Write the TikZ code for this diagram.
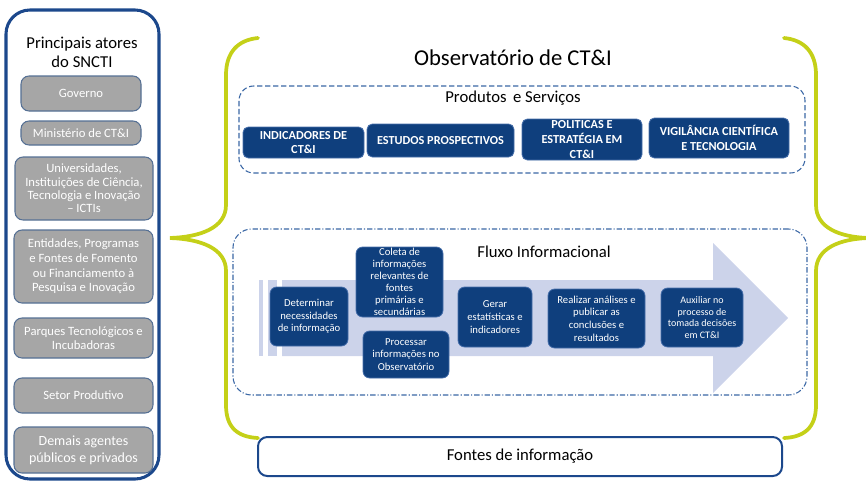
\documentclass[tikz,border=0pt]{standalone}
\usepackage{fontspec}
\setmainfont{Carlito}
\definecolor{navy}{RGB}{28,72,140}
\definecolor{boxblue}{RGB}{15,63,125}
\definecolor{boxedge}{RGB}{70,110,170}
\definecolor{graybox}{RGB}{166,166,166}
\definecolor{grayedge}{RGB}{85,112,148}
\definecolor{dashblue}{RGB}{58,103,165}
\definecolor{arrowfill}{RGB}{204,211,234}
\definecolor{bracecol}{RGB}{196,208,24}
\tikzset{
  sz/.style 2 args={minimum width=#1*0.75pt, minimum height=#2*0.75pt},
  gbox/.style={draw=grayedge, fill=graybox, rounded corners=6pt, line width=0.8pt,
    text=white, align=center, font=\fontsize{9.5}{11}\selectfont, inner sep=0pt},
  pbox/.style={draw=boxedge, fill=boxblue, rounded corners=4pt, line width=0.6pt,
    text=white, align=center, font=\bfseries\fontsize{9.2}{11}\selectfont, inner sep=0pt},
  flowbox/.style={draw=boxedge, fill=boxblue, rounded corners=5pt, line width=0.6pt,
    text=white, align=center, font=\fontsize{8}{9.5}\selectfont, inner sep=0pt},
  dashbox/.style={draw=dashblue, line width=0.8pt, rounded corners=11pt, inner sep=0pt},
  bracestroke/.style={draw=bracecol, line width=2.8pt, line cap=round, line join=miter},
  lbl/.style={inner sep=0pt, align=center}
}
\begin{document}
\begin{tikzpicture}[x=0.75pt,y=-0.75pt]
\useasboundingbox (0,0) rectangle (866,482);
% left panel
\node[draw=navy, line width=2.3pt, rounded corners=18pt, sz={153}{469}] (panel) at (82.5,244.5) {};
\node[lbl, font=\fontsize{12.5}{14}\selectfont] (ptitle) at (82,52) {Principais atores\\do SNCTI};
\node[gbox, sz={120}{35}] (gov) at (81,93.5) {Governo};
\node[gbox, sz={120}{24}] (min) at (81,133) {Ministério de CT\&I};
\node[gbox, sz={138}{63}, font=\fontsize{9.5}{10}\selectfont] (univ) at (84,188.5) {Universidades,\\Instituições de Ciência,\\Tecnologia e Inovação\\– ICTIs};
\node[gbox, sz={139}{73}] (ent) at (83.5,266.5) {Entidades, Programas\\e Fontes de Fomento\\ou Financiamento à\\Pesquisa e Inovação};
\node[gbox, sz={139}{40}] (parq) at (83.5,338) {Parques Tecnológicos e\\Incubadoras};
\node[gbox, sz={139}{35}] (setor) at (83.5,395.5) {Setor Produtivo};
\node[gbox, sz={139}{46}, font=\fontsize{10.5}{12.5}\selectfont] (demais) at (83.5,450) {Demais agentes\\públicos e privados};
% braces
\draw[bracestroke] (258,38) .. controls (238,40) and (226,52) .. (226,75) -- (226,205)
  .. controls (226,228) and (200,237) .. (170,238)
  .. controls (200,239) and (226,248) .. (226,271) -- (226,405)
  .. controls (226,428) and (238,437) .. (258,438);
\draw[bracestroke] (784,38) .. controls (804,40) and (816,52) .. (816,75) -- (816,205)
  .. controls (816,228) and (840,237) .. (868,238)
  .. controls (840,239) and (816,248) .. (816,271) -- (816,405)
  .. controls (816,428) and (804,437) .. (784,438);
% title
\node[lbl, font=\fontsize{17}{20}\selectfont] (title) at (513,58) {Observatório de CT\&I};
% produtos e servicos
\node[dashbox, dash pattern=on 4pt off 2pt, sz={566}{87}] (prod) at (522,129.5) {};
\node[lbl, font=\fontsize{12.5}{15}\selectfont] (prodlbl) at (513,98) {Produtos\, e Serviços};
\node[pbox, sz={121}{31}] (ind) at (303.5,142.5) {INDICADORES DE\\CT\&I};
\node[pbox, sz={147}{33}] (est) at (440.5,140.5) {ESTUDOS PROSPECTIVOS};
\node[pbox, sz={120}{41}] (pol) at (582,139.5) {POLITICAS E\\ESTRATÉGIA EM\\CT\&I};
\node[pbox, sz={140}{40}] (vig) at (719,138) {VIGILÂNCIA CIENTÍFICA\\E TECNOLOGIA};
% fluxo informacional
\node[dashbox, dash pattern=on 4pt off 1.5pt on 0.8pt off 1.5pt, rounded corners=14pt, sz={574}{166}] (flux) at (520,312) {};
\fill[arrowfill] (282,280) -- (713,280) -- (713,243) -- (788,318) -- (713,393) -- (713,356) -- (282,356) -- cycle;
\fill[arrowfill] (259,280) rectangle (263,356);
\fill[arrowfill] (268,280) rectangle (277,356);
\node[lbl, font=\fontsize{12.5}{15}\selectfont] (fluxlbl) at (544,252) {Fluxo Informacional};
\node[flowbox, sz={78}{59}] (det) at (309,316.5) {Determinar\\necessidades\\de informação};
\node[flowbox, sz={87}{70}, font=\fontsize{8}{9}\selectfont] (col) at (399.5,282) {Coleta de\\informações\\relevantes de\\fontes\\primárias e\\secundárias};
\node[flowbox, sz={86}{47}] (pro) at (406,354.5) {Processar\\informações no\\Observatório};
\node[flowbox, sz={74}{60}] (ger) at (495,317) {Gerar\\estatísticas e\\indicadores};
\node[flowbox, sz={97}{59}] (rea) at (596.5,318.5) {Realizar análises e\\publicar as\\conclusões e\\resultados};
\node[flowbox, sz={82}{59}, font=\fontsize{7.5}{8.6}\selectfont] (aux) at (702,317.5) {Auxiliar no\\processo de\\tomada decisões\\em CT\&I};
% fontes
\node[draw=navy, fill=white, line width=1.5pt, rounded corners=7pt, sz={524}{39}, font=\fontsize{12.5}{15}\selectfont] (fontes) at (520,456.5) {Fontes de informação};
\end{tikzpicture}
\end{document}
